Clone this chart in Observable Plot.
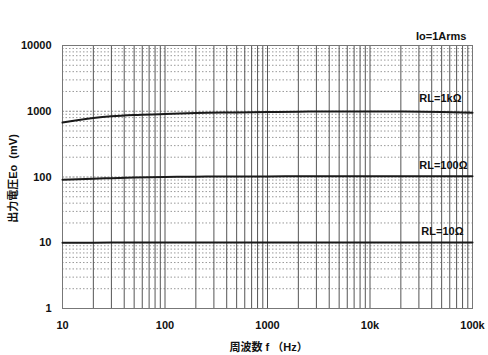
<!DOCTYPE html>
<html>
<head>
<meta charset="utf-8">
<script src="https://cdn.jsdelivr.net/npm/d3@7"></script>
<script src="https://cdn.jsdelivr.net/npm/@observablehq/plot@0.6"></script>
<style>
  html, body { margin: 0; padding: 0; background: #fff; }
  svg { display: block; }
</style>
</head>
<body>
<div id="chart"></div>
<script>
// ---- data ----
const freqs = [10, 20, 30, 50, 100, 200, 500, 1000, 2000, 5000, 10000, 20000, 50000, 100000];
const rl1k  = [675, 790, 840, 880, 905, 940, 960, 975, 985, 995, 995, 990, 975, 950];
const rl100 = [91, 94, 96, 98, 100, 101, 102, 102, 103, 103, 103, 103, 103, 103];
const rl10  = [10, 10, 10.05, 10.05, 10.1, 10.1, 10.1, 10.1, 10.1, 10.1, 10.1, 10.1, 10.1, 10.1];
const seriesNames = ["RL=1kΩ", "RL=100Ω", "RL=10Ω"];
const xTickValues = [10, 100, 1000, 10000, 100000];
const xTickLabels = ["10", "100", "1000", "10k", "100k"];
const yTickValues = [1, 10, 100, 1000, 10000];
const yTickLabels = ["1", "10", "100", "1000", "10000"];
const xLabel = "周波数 f （Hz）";
const yLabel = "出力電圧Eo  (mV)";
const note = "Io=1Arms";

const allSeries = [rl1k, rl100, rl10];
const rows = [];
allSeries.forEach((vals, si) => vals.forEach((v, i) => rows.push({series: seriesNames[si], f: freqs[i], v})));
const ends = allSeries.map((vals, si) => ({series: seriesNames[si], f: freqs[freqs.length - 1], v: vals[vals.length - 1]}));

const xGrid = d3.scaleLog().domain([10, 100000]).ticks();
const yGrid = d3.scaleLog().domain([1, 10000]).ticks();
const yMinor = yGrid.filter(v => !yTickValues.includes(v));
const yMajor = yGrid.filter(v => yTickValues.includes(v));

const font = "'Liberation Sans', Arial, 'Noto Sans CJK JP', sans-serif";
const W = "bold";

const chart = Plot.plot({
  width: 488,
  height: 355,
  marginLeft: 62,
  marginRight: 16,
  marginTop: 45,
  marginBottom: 47,
  style: {fontFamily: font, fontSize: "11px", color: "#111", background: "#fff"},
  x: {type: "log", domain: [10, 100000]},
  y: {type: "log", domain: [1, 10000]},
  marks: [
    Plot.ruleY(yMinor, {stroke: "#999", strokeWidth: 1, strokeDasharray: "1.5,2"}),
    Plot.ruleY(yMajor, {stroke: "#888", strokeWidth: 1, strokeDasharray: "2,1.5"}),
    Plot.ruleX(xGrid, {stroke: "#555", strokeWidth: 1}),
    Plot.frame({stroke: "#777", strokeWidth: 1}),
    Plot.axisX({ticks: xTickValues, tickFormat: (d) => xTickLabels[xTickValues.indexOf(d)], tickSize: 0, tickPadding: 13, label: null, fontSize: 11, fontWeight: W, fill: "#111"}),
    Plot.axisY({ticks: yTickValues, tickFormat: (d) => yTickLabels[yTickValues.indexOf(d)], tickSize: 0, tickPadding: 11, label: null, fontSize: 11, fontWeight: W, fill: "#111"}),
    Plot.line(rows, {x: "f", y: "v", z: "series", stroke: "#1a1a1a", strokeWidth: 2, curve: "monotone-x"}),
    Plot.text([ends[0]], {x: "f", y: "v", text: "series", textAnchor: "end", dx: -11, dy: -14, fontSize: 11, fontWeight: W, fill: "#111"}),
    Plot.text([ends[1]], {x: "f", y: "v", text: "series", textAnchor: "end", dx: -5, dy: -10.5, fontSize: 11, fontWeight: W, fill: "#111"}),
    Plot.text([ends[2]], {x: "f", y: "v", text: "series", textAnchor: "end", dx: -9, dy: -10.5, fontSize: 11, fontWeight: W, fill: "#111"}),
    Plot.text([note], {frameAnchor: "top-right", textAnchor: "end", lineAnchor: "middle", dx: -6, dy: -9.5, fontSize: 11, fontWeight: W, fill: "#111"}),
    Plot.text([xLabel], {frameAnchor: "bottom-left", textAnchor: "start", lineAnchor: "middle", dx: 167, dy: 39, fontSize: 11, fontWeight: W, fill: "#111"}),
    Plot.text([yLabel], {frameAnchor: "left", textAnchor: "middle", lineAnchor: "middle", rotate: -90, dx: -49, dy: 1.5, fontSize: 11, fontWeight: W, fill: "#111"})
  ]
});
document.getElementById("chart").appendChild(chart);
</script>
</body>
</html>
